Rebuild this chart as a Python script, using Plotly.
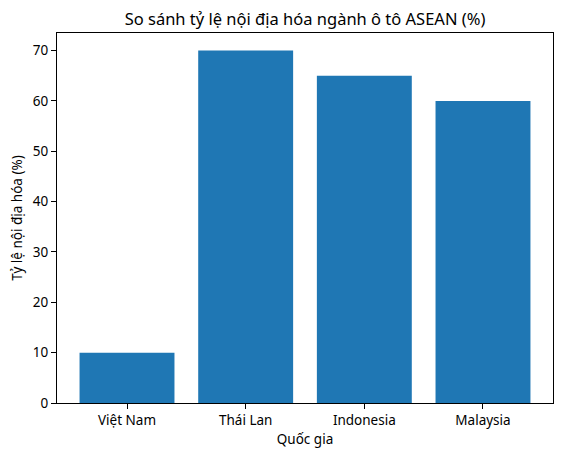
import plotly.graph_objects as go

# Dữ liệu tỷ lệ nội địa hóa
countries = ['Việt Nam', 'Thái Lan', 'Indonesia', 'Malaysia']
localization_rate = [10, 70, 65, 60]
y_ticks = [0, 10, 20, 30, 40, 50, 60, 70]

FONT = 'Noto Sans'
AXIS_STYLE = dict(
    showline=True, linecolor='black', linewidth=1, mirror=True,
    ticks='outside', ticklen=5, tickwidth=1, tickcolor='black',
    showgrid=False, zeroline=False, automargin=False,
    tickfont=dict(family=FONT, size=13.5, color='black'),
)

fig = go.Figure()
fig.add_trace(go.Bar(
    x=countries,
    y=localization_rate,
    marker=dict(color='#1f77b4', line=dict(width=0)),
    width=0.8,
))

# trang HTML có margin 8px của body -> bù lại vào margin
fig.update_layout(
    width=562, height=458,
    paper_bgcolor='white', plot_bgcolor='white',
    margin=dict(l=49, r=17, t=25, b=63),
    font=dict(family=FONT, color='black'),
    title=dict(text='So sánh tỷ lệ nội địa hóa ngành ô tô ASEAN (%)',
               x=0.5, xref='paper', xanchor='center',
               y=1, yref='container', yanchor='top', pad=dict(t=5),
               font=dict(family=FONT, size=16.5, color='black')),
    showlegend=False,
)
fig.update_xaxes(
    **AXIS_STYLE, range=[-0.59, 3.59],
    title=dict(text='Quốc gia', font=dict(family=FONT, size=13.5), standoff=6),
)
fig.update_yaxes(
    **AXIS_STYLE, range=[0, 73.5], tickvals=y_ticks,
    title=dict(text='Tỷ lệ nội địa hóa (%)', font=dict(family=FONT, size=13.5), standoff=8),
)

fig.write_html("out.html")
